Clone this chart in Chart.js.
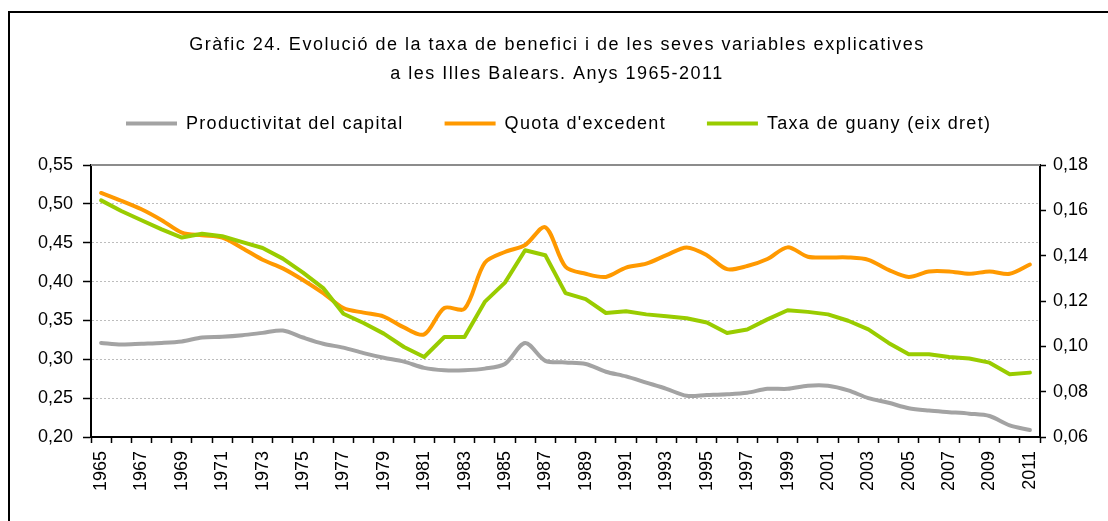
<!DOCTYPE html>
<html>
<head>
<meta charset="utf-8">
<script src="https://cdn.jsdelivr.net/npm/chart.js@4.4.1/dist/chart.umd.min.js"></script>
<style>
  html, body { margin: 0; padding: 0; background: #fff; overflow: hidden; }
  #wrap { width: 1108px; height: 521px; }
</style>
</head>
<body>
<div id="wrap"><canvas id="grafic" width="1108" height="521"></canvas></div>
<script>
// ============ DADES ============
const anys = ['1965','1966','1967','1968','1969','1970','1971','1972','1973','1974',
  '1975','1976','1977','1978','1979','1980','1981','1982','1983','1984',
  '1985','1986','1987','1988','1989','1990','1991','1992','1993','1994',
  '1995','1996','1997','1998','1999','2000','2001','2002','2003','2004',
  '2005','2006','2007','2008','2009','2010','2011'];

// eix esquerre
const productivitat = [0.321,0.319,0.320,0.321,0.323,0.328,0.329,0.331,0.334,0.337,
  0.328,0.320,0.315,0.308,0.302,0.297,0.289,0.286,0.286,0.288,
  0.294,0.321,0.298,0.296,0.294,0.284,0.278,0.270,0.262,0.253,
  0.254,0.255,0.257,0.262,0.262,0.266,0.266,0.260,0.250,0.244,
  0.237,0.234,0.232,0.230,0.227,0.215,0.209];

const quota = [0.514,0.504,0.493,0.479,0.463,0.4595,0.4565,0.443,0.428,0.417,
  0.402,0.385,0.366,0.360,0.355,0.341,0.332,0.366,0.365,0.424,
  0.438,0.447,0.470,0.419,0.410,0.406,0.418,0.423,0.434,0.444,
  0.434,0.416,0.420,0.429,0.444,0.432,0.431,0.431,0.428,0.415,
  0.406,0.413,0.413,0.410,0.413,0.410,0.422];

// eix dret
const taxaGuany = [0.1644,0.1597,0.1556,0.1516,0.1480,0.1497,0.1486,0.1460,0.1434,0.1387,
  0.1325,0.1257,0.1144,0.1103,0.1056,0.0997,0.0953,0.1041,0.1041,0.1196,
  0.1281,0.1424,0.1402,0.1235,0.1208,0.1147,0.1155,0.1141,0.1133,0.1124,
  0.1105,0.1059,0.1074,0.1119,0.1159,0.1152,0.1141,0.1113,0.1075,0.1015,
  0.0965,0.0965,0.0953,0.0946,0.0928,0.0877,0.0884];

const titol = ['Gràfic 24. Evolució de la taxa de benefici i de les seves variables explicatives',
  'a les Illes Balears. Anys 1965-2011'];

const GRIS = '#a3a3a3', TARONJA = '#ff9900', VERD = '#99cc00';
const FONT = '"Liberation Sans", Arial, sans-serif';

const coma = (v) => Number(v).toFixed(2).replace('.', ',');

// ============ PLUGIN: marc, títol i llegenda ============
const marc = {
  id: 'marc',
  beforeDraw(chart) {
    const { ctx } = chart;
    ctx.save();
    ctx.fillStyle = '#fff';
    ctx.fillRect(0, 0, chart.width, chart.height);
    ctx.strokeStyle = '#000';
    ctx.lineWidth = 2;
    ctx.strokeRect(9, 12, chart.width + 40, chart.height + 40);
    ctx.restore();
  },
  beforeDatasetsDraw(chart) {
    // línia superior de la graella, contínua
    const { ctx, chartArea: a } = chart;
    ctx.save();
    ctx.strokeStyle = '#8c8c8c';
    ctx.lineWidth = 2;
    ctx.beginPath();
    ctx.moveTo(a.left, a.top);
    ctx.lineTo(a.right, a.top);
    ctx.stroke();
    ctx.restore();
  },
  afterDraw(chart) {
    const { ctx } = chart;
    ctx.save();
    ctx.fillStyle = '#000';
    ctx.font = '18px ' + FONT;
    ctx.letterSpacing = '1.5px';
    ctx.textAlign = 'center';
    ctx.textBaseline = 'alphabetic';
    ctx.fillText(titol[0], 557, 50);
    ctx.fillText(titol[1], 557, 79);

    // llegenda
    ctx.letterSpacing = '1.3px';
    ctx.textAlign = 'left';
    let x = 126;
    chart.data.datasets.forEach(ds => {
      ctx.strokeStyle = ds.borderColor;
      ctx.lineWidth = 4;
      ctx.beginPath();
      ctx.moveTo(x, 123.5);
      ctx.lineTo(x + 51, 123.5);
      ctx.stroke();
      ctx.fillText(ds.label, x + 60, 129);
      x += 60 + ctx.measureText(ds.label).width + 41;
    });
    ctx.restore();
  }
};

const tickFont = { family: FONT, size: 18 };

new Chart(document.getElementById('grafic'), {
  type: 'line',
  data: {
    labels: anys,
    datasets: [
      { label: 'Productivitat del capital', data: productivitat, yAxisID: 'y', borderColor: GRIS, backgroundColor: GRIS, borderWidth: 4, tension: 0.3, order: 2 },
      { label: "Quota d'excedent", data: quota, yAxisID: 'y', borderColor: TARONJA, backgroundColor: TARONJA, borderWidth: 4, tension: 0.3, order: 1 },
      { label: 'Taxa de guany (eix dret)', data: taxaGuany, yAxisID: 'y1', borderColor: VERD, backgroundColor: VERD, borderWidth: 4, tension: 0, order: 0 },
    ],
  },
  options: {
    responsive: false,
    devicePixelRatio: 1,
    animation: false,
    layout: { padding: { top: 165, left: 0, right: 0, bottom: 0 } },
    elements: { point: { radius: 0 }, line: { borderCapStyle: 'round', borderJoinStyle: 'round' } },
    plugins: { legend: { display: false }, title: { display: false }, tooltip: { enabled: false } },
    scales: {
      x: {
        type: 'category',
        offset: true,
        grid: { offset: true, drawOnChartArea: false, drawTicks: true, tickLength: 6, tickColor: '#000', tickWidth: 1.5 },
        border: { display: true, color: '#000', width: 2 },
        ticks: {
          autoSkip: false, maxRotation: 90, minRotation: 90, padding: 8,
          color: '#000', font: { family: FONT, size: 18 },
          callback: (v, i) => (i % 2 === 0 ? anys[i] : ''),
        },
        afterFit: (s) => { s.height = 84; },
      },
      y: {
        position: 'left',
        min: 0.20, max: 0.55,
        grid: {
          color: (c) => (c.tick && c.tick.value >= 0.549 ? 'rgba(0,0,0,0)' : '#bdbdbd'),
          lineWidth: 1,
          tickLength: 8, tickColor: '#000', tickWidth: 1.5, tickBorderDash: [],
        },
        // a la v4 el traç discontinu de la graella va dins de border.dash
        border: { display: true, color: '#000', width: 2, dash: [2, 2] },
        ticks: { stepSize: 0.05, padding: 10, color: '#000', font: tickFont, callback: (v) => coma(v) },
        afterFit: (s) => { s.width = 91; },
      },
      y1: {
        position: 'right',
        min: 0.06, max: 0.18,
        grid: { drawOnChartArea: false, tickLength: 6, tickColor: '#000', tickWidth: 1.5 },
        border: { display: true, color: '#000', width: 2 },
        ticks: { stepSize: 0.02, padding: 7, color: '#000', font: tickFont, callback: (v) => coma(v) },
        afterFit: (s) => { s.width = 68; },
      },
    },
  },
  plugins: [marc],
});
</script>
</body>
</html>
